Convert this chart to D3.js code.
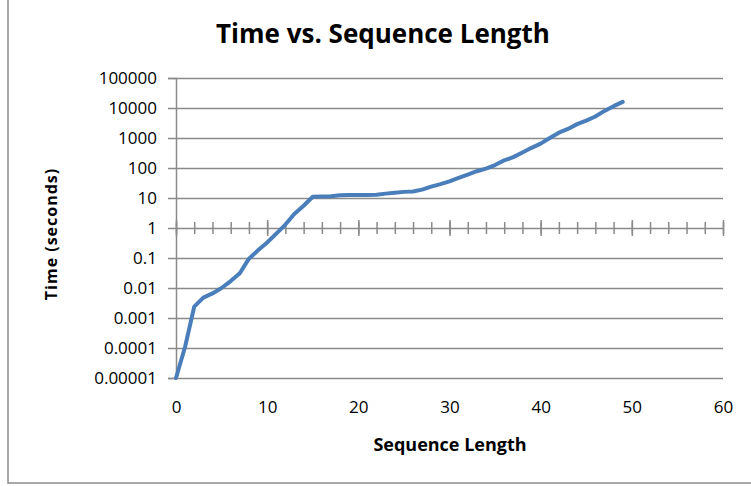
<!DOCTYPE html>
<html>
<head>
<meta charset="utf-8">
<script src="https://cdn.jsdelivr.net/npm/d3@7"></script>
<style>
  body { margin: 0; background: #fff; }
  text { font-family: "Open Sans", sans-serif; fill: #000; }
</style>
</head>
<body>
<div id="chart"></div>
<script>
var svgWidth = 751;
var svgHeight = 486;

var margin = { top: 78, right: 28, bottom: 108, left: 176 };
var chartWidth = svgWidth - margin.left - margin.right;
var chartHeight = svgHeight - margin.top - margin.bottom;

// data
var seqLength = d3.range(0, 50);
var timeSeconds = [
  0.00001, 0.00011, 0.0024, 0.0048, 0.0066, 0.010, 0.017, 0.031, 0.095, 0.18,
  0.33, 0.65, 1.3, 3.0, 5.5, 11, 11.2, 11.5, 12.3, 12.5,
  12.5, 12.6, 12.8, 14, 15, 16, 16.5, 19, 24, 29,
  36, 47, 60, 78, 95, 125, 180, 230, 330, 470,
  650, 1000, 1500, 2000, 2900, 3800, 5200, 8000, 11500, 16000
];
var yTicks = [0.00001, 0.0001, 0.001, 0.01, 0.1, 1, 10, 100, 1000, 10000, 100000];
var yTickLabels = ["0.00001", "0.0001", "0.001", "0.01", "0.1", "1", "10", "100", "1000", "10000", "100000"];
var xTicks = [0, 10, 20, 30, 40, 50, 60];
var xMinorTicks = d3.range(0, 61, 2);

var svg = d3.select("#chart")
  .append("svg")
  .attr("width", svgWidth)
  .attr("height", svgHeight);

// outer frame
svg.append("rect")
  .attr("x", 8)
  .attr("y", -10)
  .attr("width", 800)
  .attr("height", 493)
  .attr("fill", "none")
  .attr("stroke", "#8c8c8c")
  .attr("stroke-width", 1.5);

var chartGroup = svg.append("g")
  .attr("transform", `translate(${margin.left}, ${margin.top})`);

var xScale = d3.scaleLinear().domain([0, 60]).range([0, chartWidth]);
var yScale = d3.scaleLog().domain([0.00001, 100000]).range([chartHeight, 0]);

// gridlines
chartGroup.append("g")
  .attr("class", "grid")
  .call(d3.axisLeft(yScale).tickValues(yTicks).tickSize(-chartWidth).tickFormat(""))
  .call(g => g.select(".domain").remove())
  .call(g => g.selectAll("line").attr("stroke", "#8a8a8a").attr("stroke-width", 1.5));

// y axis
chartGroup.append("g")
  .call(d3.axisLeft(yScale).tickValues(yTicks).tickSize(8).tickPadding(11)
    .tickFormat((d, i) => yTickLabels[i]))
  .call(g => g.select(".domain").attr("stroke", "#8a8a8a").attr("stroke-width", 1.5))
  .call(g => g.selectAll("line").attr("stroke", "#8a8a8a").attr("stroke-width", 1.5))
  .call(g => g.selectAll("text").style("font-size", "17px").attr("fill", "#000"));

// x axis crossing at y = 1
var xAxisY = yScale(1);
chartGroup.append("g")
  .attr("transform", `translate(0, ${xAxisY})`)
  .call(d3.axisBottom(xScale).tickValues(xMinorTicks).tickSize(0).tickFormat(""))
  .call(g => g.select(".domain").remove())
  .call(g => g.selectAll("line").attr("y1", -6).attr("y2", 6)
    .attr("stroke", "#8a8a8a").attr("stroke-width", 1.5));

chartGroup.append("g")
  .attr("transform", `translate(0, ${xAxisY})`)
  .call(d3.axisBottom(xScale).tickValues(xTicks).tickSize(0).tickFormat(""))
  .call(g => g.select(".domain").remove())
  .call(g => g.selectAll("line").attr("y1", -8).attr("y2", 8)
    .attr("stroke", "#8a8a8a").attr("stroke-width", 1.5));

// x tick labels sit low, under the plot
chartGroup.append("g")
  .attr("transform", `translate(0, ${chartHeight})`)
  .call(d3.axisBottom(xScale).tickValues(xTicks).tickSize(0).tickPadding(23))
  .call(g => g.select(".domain").remove())
  .call(g => g.selectAll("text").style("font-size", "17px").attr("fill", "#000"));

// the line
var line = d3.line()
  .x((d, i) => xScale(seqLength[i]))
  .y(d => yScale(d));

chartGroup.append("path")
  .datum(timeSeconds)
  .attr("d", line)
  .attr("fill", "none")
  .attr("stroke", "#4a7ebb")
  .attr("stroke-width", 4)
  .attr("stroke-linejoin", "round")
  .attr("stroke-linecap", "round");

// titles
svg.append("text")
  .attr("x", 383)
  .attr("y", 43)
  .attr("text-anchor", "middle")
  .style("font-size", "26px")
  .style("font-weight", "bold")
  .text("Time vs. Sequence Length");

svg.append("text")
  .attr("x", 450)
  .attr("y", 451)
  .attr("text-anchor", "middle")
  .style("font-size", "18px")
  .style("font-weight", "bold")
  .text("Sequence Length");

svg.append("text")
  .attr("transform", "translate(57, 234) rotate(-90)")
  .attr("text-anchor", "middle")
  .style("font-size", "16px")
  .style("font-weight", "bold")
  .style("letter-spacing", "1px")
  .text("Time (seconds)");
</script>
</body>
</html>
